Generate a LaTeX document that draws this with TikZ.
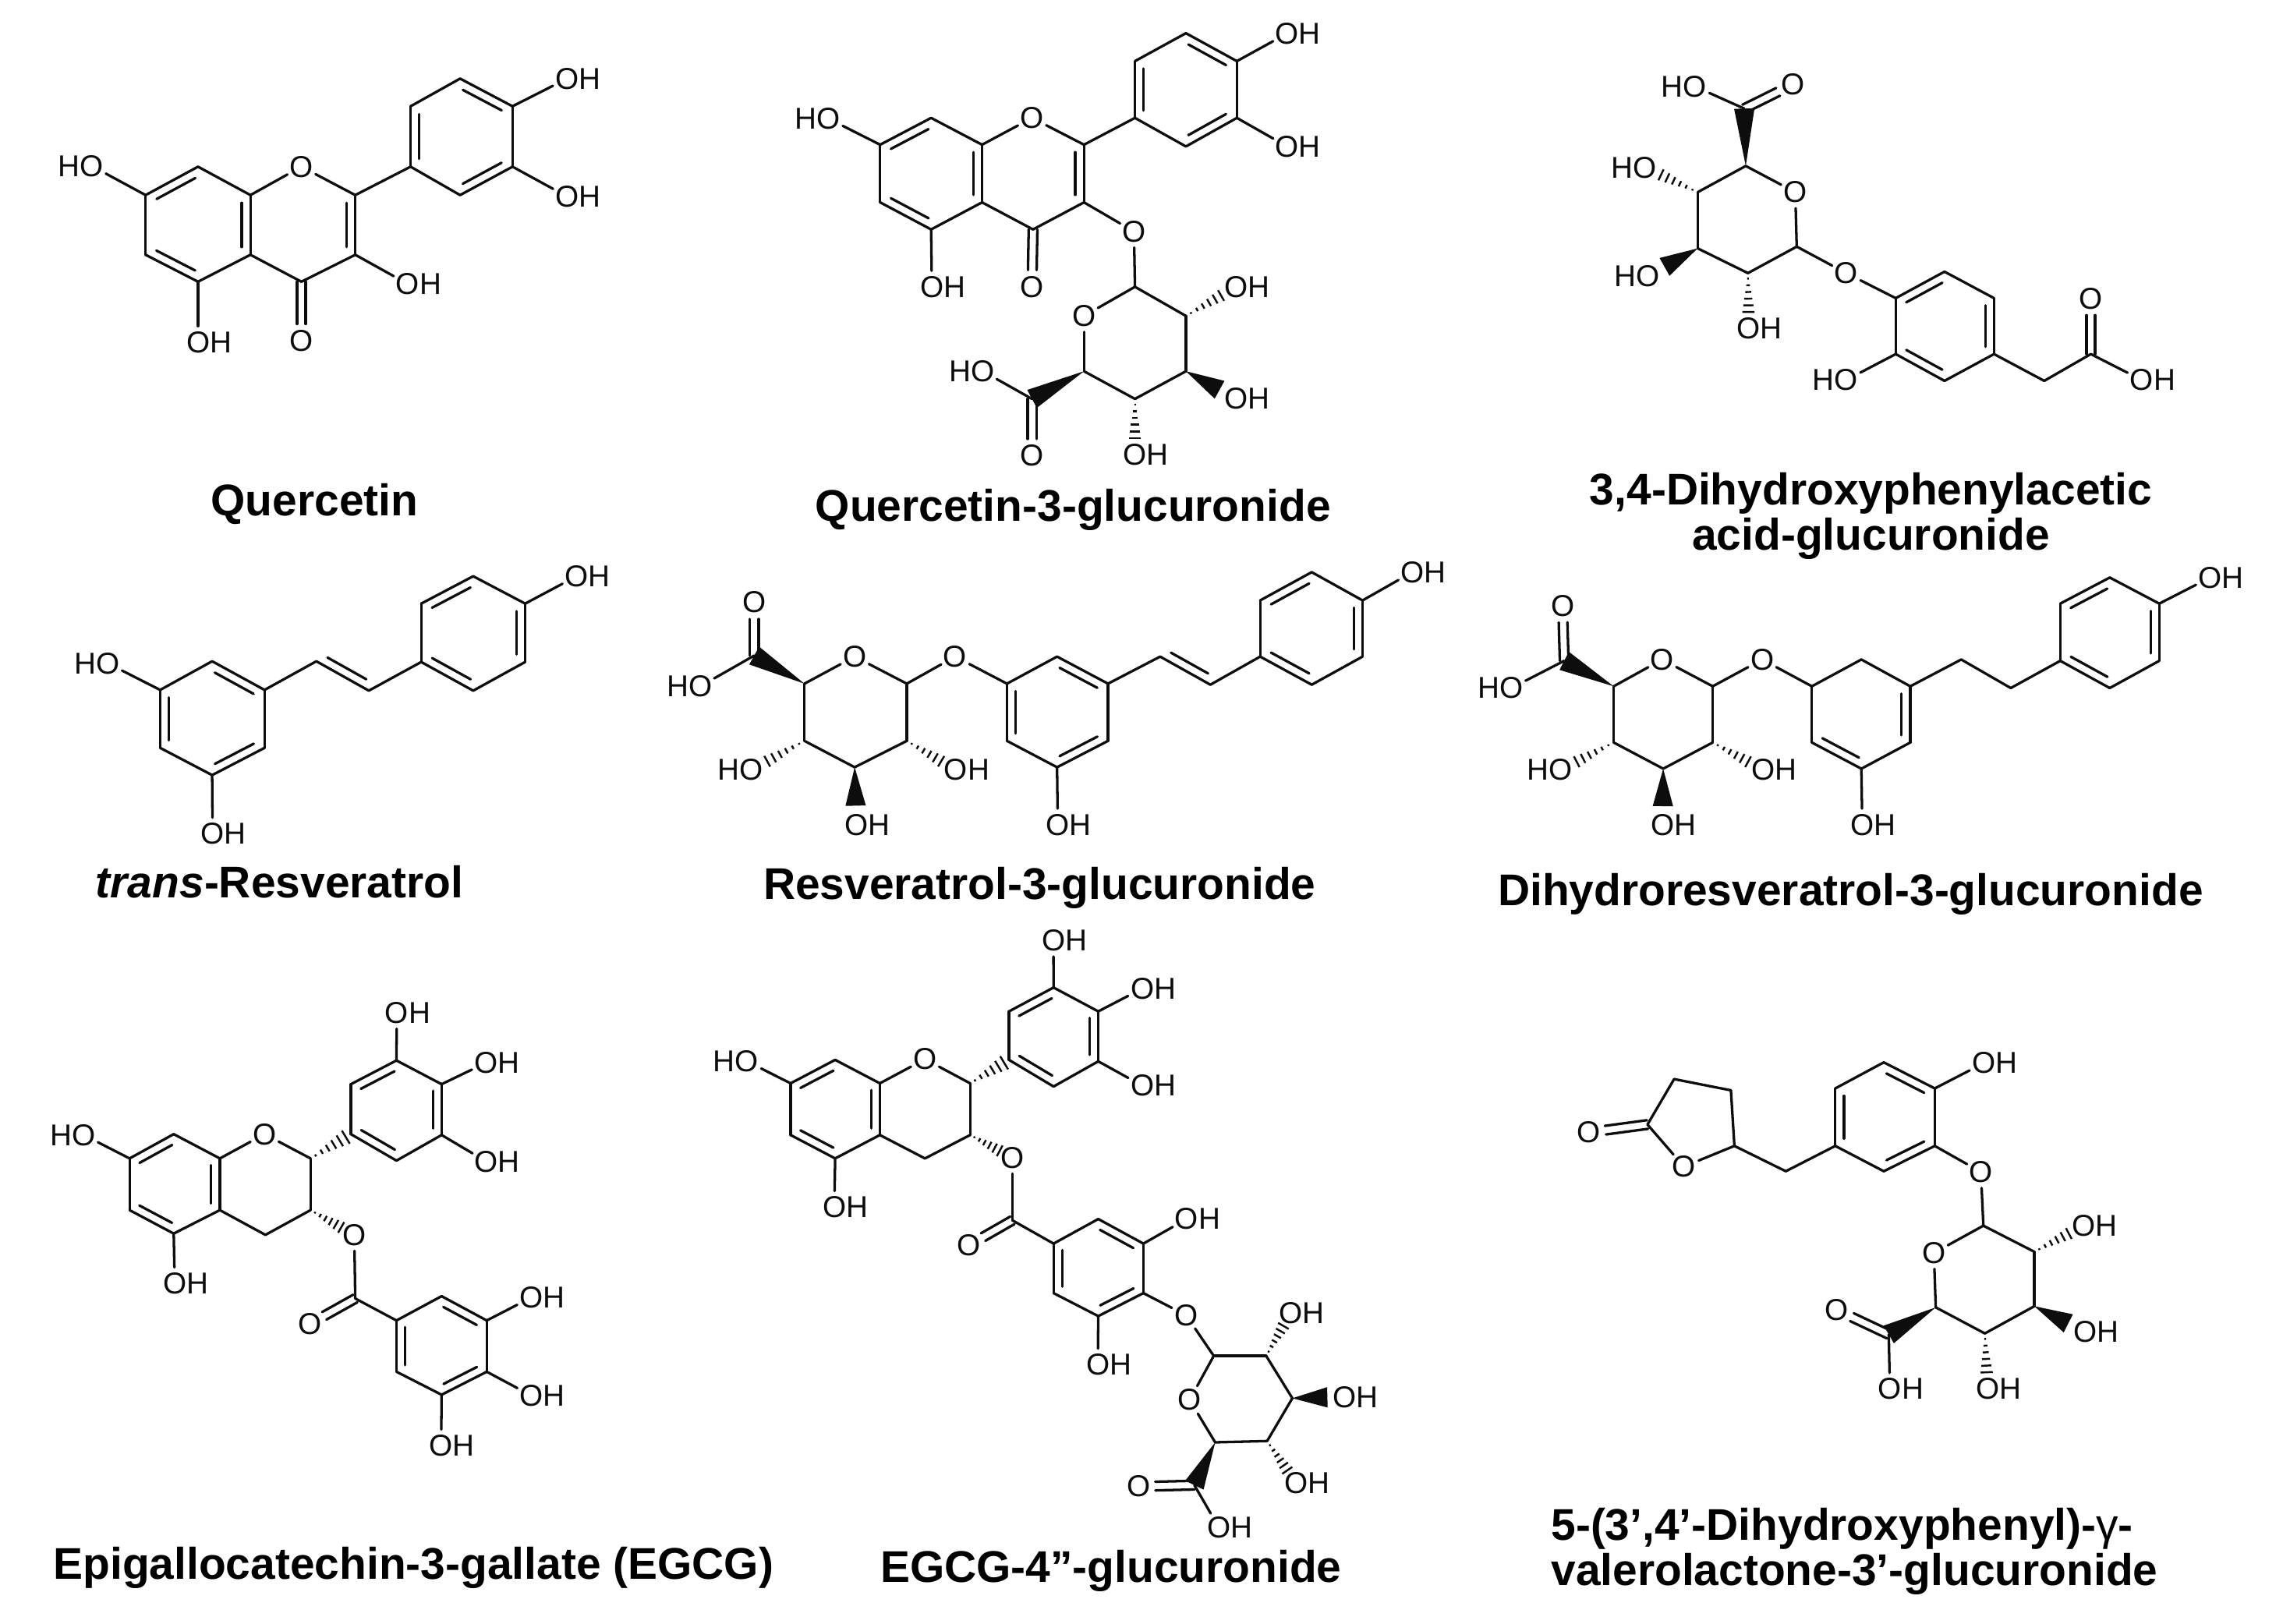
\documentclass[tikz,border=0pt]{standalone}
\usepackage{fontspec}
\setmainfont{Liberation Sans}
\usetikzlibrary{calc}
\def\bgap{3.4pt}
\tikzset{
  bond/.style={line width=1pt, line cap=round, black!95},
  site/.style={circle, inner sep=0pt, outer sep=0pt, minimum size=.44cm, font=\fontsize{11.8}{14}\selectfont, black!95},
  lab/.style={inner sep=0pt, outer sep=0pt, font=\fontsize{11.8}{14}\selectfont, black!95},
  title/.style={inner sep=0pt, align=center, yshift=-.06cm, font=\fontsize{17.35}{17.8}\selectfont\bfseries}
}
% atoms
\newcommand{\atoms}[2]{\foreach \n/\x/\y in {#2} \coordinate (#1\n) at (\x,\y);}
\newcommand{\oat}[3]{\node[site] (#1) at (#2,#3) {O};}
\newcommand{\oh}[3]{\node[site] (#1) at (#2,#3) {};
  \node[lab, anchor=west] (#1t) at ([xshift=-.16cm]#1.center) {OH};}
\newcommand{\ho}[3]{\node[site] (#1) at (#2,#3) {};
  \node[lab, anchor=east] (#1t) at ([xshift=.16cm]#1.center) {HO};}
% bonds
\newcommand{\bonds}[2]{\foreach \i/\j in {#2} \draw[bond] (#1\i) -- (#1\j);}
\newcommand{\dbl}[2]{\draw[bond] (#1) -- (#2);
  \draw[bond] ($(#1)!.13!(#2)!\bgap!90:(#2)$) -- ($(#2)!.13!(#1)!\bgap!-90:(#1)$);}
\newcommand{\dbls}[2]{\foreach \i/\j in {#2} \dbl{#1\i}{#1\j};}
\newcommand{\dblo}[2]{\draw[bond, shorten >=.23cm] ($(#1)!1.7pt!90:(#2)$) -- ($(#2)!1.7pt!-90:(#1)$);
  \draw[bond, shorten >=.23cm] ($(#1)!1.7pt!-90:(#2)$) -- ($(#2)!1.7pt!90:(#1)$);}
\newcommand{\wedgeb}[3][.67]{\coordinate (wtip) at ($(#2)!#1!(#3)$);
  \fill[black!95] (#2) -- ($(wtip)!.14cm!90:(#2)$) -- ($(wtip)!.14cm!-90:(#2)$) -- cycle;}
\newcommand{\hashb}[3][1]{\foreach \t in {.1,.22,.34,.46,.58,.7}
  \draw[black!95, line width=.75pt] ($(#2)!{\t*#1}!(#3)!{\t*#1*3.4pt}!90:(#3)$) -- ($(#2)!{\t*#1}!(#3)!{\t*#1*3.4pt}!-90:(#3)$);}

\begin{document}
\begin{tikzpicture}[x=.02cm, y=-.02cm]
  \useasboundingbox (0,0) rectangle (1568,1115);

  % Quercetin
  \atoms{q}{a7/100/134, a8/136/114.5, a8a/172/134, a4a/172/175, a5/136/193.5, a6/100/175,
    c2/244/134, c3/244/175, c4/207/193.5,
    b1/282/114.5, b2/282/73, b3/316/54, b4/352/73, b5/352/114.5, b6/316/134}
  \oat{qo1}{207}{114.5} \oat{qok}{207}{234}
  \oh{qo3}{280}{195} \oh{qo5}{136}{235} \ho{qo7}{63}{114}
  \oh{qoa}{389.5}{54} \oh{qob}{389.5}{135}
  \bonds{q}{a8/a8a, a4a/a5, a7/a6, a4a/c4, c4/c3, c2/b1, b3/b2, b1/b6, b5/b4,
    a8a/o1, c2/o1, c3/o3, a5/o5, a7/o7, b4/oa, b5/ob}
  \dbls{q}{a8/a7, a6/a5, a4a/a8a, c3/c2, b2/b1, b6/b5, b4/b3}
  \dblo{qc4}{qok}
  \node[title] (qname) at (216,343) {Quercetin};

  % Quercetin-3-glucuronide
  \atoms{g}{a7/604.5/99.4, a8/639.5/81, a8a/674.5/99.4, a4a/674.5/139, a5/639.5/157.6, a6/604.5/139,
    c2/744.5/99.4, c3/744.5/139, c4/709.5/157.6,
    b1/779.5/81, b2/779.5/42, b3/814.5/22.8, b4/849.5/42, b5/849.5/81, b6/814.5/100.6,
    s1/779.5/197, s2/814.5/217, s3/814.5/255, s4/779.5/274, s5/744.5/255, c6/708.8/274}
  \oat{go1}{708.8}{81} \oat{gok}{708.8}{197} \oat{gol}{778.8}{159} \oat{gso}{744.5}{217} \oat{gob}{708.8}{313}
  \oh{go5}{640}{197} \ho{go7}{569}{81.5} \oh{goa}{884}{23} \oh{goc}{884}{100.6}
  \oh{gs2o}{849}{197} \oh{gs3o}{849}{274} \oh{gs4o}{779.5}{312.5} \ho{goh}{675}{255}
  \bonds{g}{a8/a8a, a4a/a5, a7/a6, a4a/c4, c4/c3, c2/b1, b3/b2, b1/b6, b5/b4,
    a8a/o1, c2/o1, a5/o5, a7/o7, b4/oa, b5/oc, c3/ol, ol/s1, s1/so, s1/s2, s2/s3, s3/s4, s4/s5, s5/so, c6/oh}
  \dbls{g}{a8/a7, a6/a5, a4a/a8a, c3/c2, b2/b1, b6/b5, b4/b3}
  \dblo{gc4}{gok} \dblo{gc6}{gob}
  \hashb{gs2}{gs2o} \hashb{gs4}{gs4o} \wedgeb{gs3}{gs3o} \wedgeb[1]{gs5}{gc6}
  \node[title] (gname) at (737,347) {Quercetin-3-glucuronide};

  % 3,4-Dihydroxyphenylacetic acid-glucuronide
  \atoms{p}{c6/1198/74.6, s5/1199/114, s1/1234/169.4, s2/1200.5/187.6, s3/1166/170.6, s4/1166/132,
    p1/1302/204.8, p2/1335.5/186.6, p3/1369.5/204.8, p4/1369.5/243.2, p5/1335.5/261.6, p6/1302/243.2,
    ch/1404/261.6, k/1436/243.2}
  \ho{poa}{1164}{59.4} \oat{pob}{1231.5}{58} \oat{pso}{1233}{132} \oat{pol}{1268}{187.6} \oat{pok}{1436}{205}
  \ho{ps4o}{1130}{115} \ho{ps3o}{1132}{189.6} \oh{ps2o}{1201}{225.7} \ho{poh}{1268}{261} \oh{pod}{1471}{261}
  \bonds{p}{c6/oa, s5/so, so/s1, s1/s2, s2/s3, s3/s4, s4/s5, s1/ol, ol/p1,
    p1/p6, p5/p4, p3/p2, p6/oh, p4/ch, ch/k, k/od}
  \dbls{p}{p2/p1, p6/p5, p4/p3}
  \dblo{pc6}{pob} \dblo{pk}{pok}
  \wedgeb[1]{ps5}{pc6} \hashb{ps4}{ps4o} \wedgeb{ps3}{ps3o} \hashb{ps2}{ps2o}
  \node[title] (pname) at (1285,351.5) {3,4-Dihydroxyphenylacetic\\acid-glucuronide};

  % trans-Resveratrol
  \atoms{t}{r1/110/473.9, r2/145.7/454.2, r3/181.7/473.9, r4/181.7/513.7, r5/145.7/532.4, r6/110/513.7,
    v1/217.3/454.2, v2/253.3/474.4,
    b1/289.3/454.7, b2/289.3/414.6, b3/325/395.8, b4/360.7/414.6, b5/360.7/454.7, b6/325/474.4}
  \ho{toa}{74}{455.6} \oh{tob}{146}{572.6} \oh{toc}{396}{395.8}
  \bonds{t}{r2/r1, r6/r5, r4/r3, r1/oa, r5/ob, r3/v1, v2/b1, b2/b1, b6/b5, b4/b3, b4/oc}
  \dbls{t}{r1/r6, r5/r4, r3/r2, v1/v2, b3/b2, b1/b6, b5/b4}
  \node[title] (tname) at (192,603) {\textit{trans}-Resveratrol};

  % Resveratrol-3-glucuronide
  \atoms{r}{c6/518/450.3, s5/552.5/469.6, s1/622.8/469.6, s2/622.8/508.9, s3/587/527, s4/552.5/508.9,
    r1/691.6/469.6, r2/726/451, r3/761/469.6, r4/761/508.9, r5/726/527, r6/691.6/508.9,
    v1/796.8/451, v2/831.3/470.3,
    b1/865.5/451, b2/865.5/412.4, b3/900.9/393, b4/935.8/412.4, b5/935.8/451, b6/900.9/470.3}
  \oat{rob}{518}{413.7} \ho{roa}{481}{471.4} \oat{rso}{587}{451} \oat{rol}{656}{451}
  \ho{rs4o}{516}{528.9} \oh{rs2o}{656.5}{528.9} \oh{rs3o}{588}{566.4} \oh{rod}{726.5}{566.4} \oh{roc}{970}{393}
  \bonds{r}{c6/oa, s5/so, so/s1, s1/s2, s2/s3, s3/s4, s4/s5, s1/ol, ol/r1,
    r2/r1, r6/r5, r4/r3, r5/od, r3/v1, v2/b1, b2/b1, b6/b5, b4/b3, b4/oc}
  \dbls{r}{r1/r6, r5/r4, r3/r2, v1/v2, b3/b2, b1/b6, b5/b4}
  \dblo{rc6}{rob}
  \wedgeb[1]{rs5}{rc6} \hashb{rs4}{rs4o} \hashb{rs2}{rs2o} \wedgeb{rs3}{rs3o}
  \node[title] (rname) at (714,607) {Resveratrol-3-glucuronide};

  % Dihydroresveratrol-3-glucuronide
  \atoms{d}{c6/1074.3/453.9, s5/1108.3/471.4, s1/1176.3/471.4, s2/1176.3/510, s3/1142.3/528, s4/1108.3/510,
    r1/1244.4/471.4, r2/1278.4/453, r3/1312/471.4, r4/1312/510, r5/1278.4/528, r6/1244.4/510,
    v1/1347/453, v2/1381/472.6,
    b1/1415/453.9, b2/1415/414.6, b3/1449/396.7, b4/1483/414.6, b5/1483/453.9, b6/1449/472.6}
  \oat{dob}{1073.2}{416} \ho{doa}{1038}{472.6} \oat{dso}{1141.6}{453} \oat{dol}{1210.3}{453}
  \ho{ds4o}{1072}{528.9} \oh{ds2o}{1211}{528.9} \oh{ds3o}{1142}{566.4} \oh{dod}{1279}{566.4} \oh{doc}{1518}{396.7}
  \bonds{d}{c6/oa, s5/so, so/s1, s1/s2, s2/s3, s3/s4, s4/s5, s1/ol, ol/r1,
    r2/r1, r3/r2, r1/r6, r5/r4, r5/od, r3/v1, v1/v2, v2/b1, b2/b1, b6/b5, b4/b3, b4/oc}
  \dbls{d}{r4/r3, r6/r5, b3/b2, b1/b6, b5/b4}
  \dblo{dc6}{dob}
  \wedgeb[1]{ds5}{dc6} \hashb{ds4}{ds4o} \hashb{ds2}{ds2o} \wedgeb{ds3}{ds3o}
  \node[title] (dname) at (1271,611) {Dihydroresveratrol-3-glucuronide};

  % Epigallocatechin-3-gallate
  \atoms{e}{a7/89/795.7, a8/119.3/779, a8a/151/795.7, a4a/151/831.2, a5/119.3/847.3, a6/89/831.2,
    c2/213.3/795.7, c3/213.3/831.2, c4/182.3/848.2,
    b1/241/779, b2/241/744.7, b3/272.3/728.4, b4/303.3/744.7, b5/303.3/779.6, b6/272.3/797.2,
    k/244/891.9, g1/272.3/907, g2/303.3/890.3, g3/334.3/907, g4/334.3/942.2, g5/303.3/958, g6/272.3/942.2}
  \oat{eo1}{181.7}{779} \oat{eol}{243.3}{848.2} \oat{eok}{212.7}{909.4}
  \ho{eo7}{57.5}{779.6} \oh{eo5}{120}{881.5} \oh{eoa}{272.5}{695.6} \oh{eob}{334}{729.9} \oh{eoc}{334}{797.8}
  \oh{eod}{365}{891.2} \oh{eoe}{365}{958.6} \oh{eof}{303}{992.8}
  \bonds{e}{a7/a6, a5/a4a, a8a/a8, a8a/o1, o1/c2, c2/c3, c3/c4, c4/a4a, a7/o7, a5/o5,
    b2/b1, b6/b5, b4/b3, b3/oa, b4/ob, b5/oc, ol/k, k/g1, g2/g1, g6/g5, g4/g3, g3/od, g4/oe, g5/of}
  \dbls{e}{a8/a7, a6/a5, a4a/a8a, b3/b2, b1/b6, b5/b4, g1/g6, g5/g4, g3/g2}
  \dblo{ek}{eok}
  \hashb[1.25]{ec2}{eb1} \hashb{ec3}{eol}
  \node[title] (ename) at (284,1074) {Epigallocatechin-3-gallate (EGCG)};

  % EGCG-4''-glucuronide
  \atoms{f}{a7/543/744.1, a8/573.6/728, a8a/604.3/744.1, a4a/604.3/779.6, a5/573.6/795.7, a6/543/779.6,
    c2/666.3/744.1, c3/666.3/779.6, c4/635.3/795.7,
    b1/693/728, b2/693/694.7, b3/723.6/678.3, b4/754.3/694.7, b5/754.3/729, b6/723.6/746.3,
    k/695.3/838.2, g1/723.6/854.2, g2/754.3/837.3, g3/785.3/854.2, g4/785.3/888.2, g5/754.3/904, g6/723.6/888.2,
    s1/833.6/931.3, s2/869.6/931.3, s3/887.6/960.4, s4/870.3/989.8, s5/834.6/990.7, c6/820.3/1020.1}
  \oat{fo1}{635.3}{727.5} \oat{fol}{695.3}{795.1} \oat{fok}{665.3}{855.4} \oat{fom}{814.6}{903.4}
  \oat{fso}{817}{961.6} \oat{fob}{782}{1021}
  \ho{fo7}{513}{729} \oh{fo5}{573}{829} \oh{foa}{723.5}{646} \oh{foe}{784.5}{679} \oh{foc}{784.5}{745.7}
  \oh{fod}{815}{837.3} \oh{fof}{754}{937.3}
  \oh{fs2o}{886.5}{901.9} \oh{fs3o}{923.5}{959.5} \oh{fs4o}{890}{1018.6} \oh{foh}{837}{1049}
  \bonds{f}{a7/a6, a5/a4a, a8a/a8, a8a/o1, o1/c2, c2/c3, c3/c4, c4/a4a, a7/o7, a5/o5,
    b2/b1, b6/b5, b4/b3, b3/oa, b4/oe, b5/oc, ol/k, k/g1, g2/g1, g6/g5, g4/g3, g3/od, g4/om, g5/of,
    om/s1, s1/s2, s2/s3, s3/s4, s4/s5, s5/so, so/s1, c6/oh}
  \dbls{f}{a8/a7, a6/a5, a4a/a8a, b3/b2, b1/b6, b5/b4, g1/g6, g5/g4, g3/g2}
  \dblo{fk}{fok} \dblo{fc6}{fob}
  \hashb[1.25]{fc2}{fb1} \hashb{fc3}{fol} \hashb{fs2}{fs2o} \hashb{fs4}{fs4o}
  \wedgeb{fs3}{fs3o} \wedgeb[1]{fs5}{fc6}
  \node[title] (fname) at (763,1076) {EGCG-4”-glucuronide};

  % 5-(3',4'-Dihydroxyphenyl)-valerolactone-3'-glucuronide
  \atoms{v}{l1/1131.5/772.4, l2/1149.8/741.2, l3/1188.8/748.9, l4/1191.2/787.1, ch/1226.5/804.5,
    p1/1260.5/787.1, p2/1260.5/747.6, p3/1293.8/729.7, p4/1328.8/747.6, p5/1328.8/787.1, p6/1293.8/804.5,
    s1/1362.2/841.9, s2/1397.2/859.8, s3/1397.2/897.2, s4/1363.2/915.9, s5/1329.5/898, c6/1297.2/916.6}
  \oat{vlo}{1156.5}{801.3} \oat{vok}{1091.2}{777.8} \oat{vol}{1360.5}{805} \oat{vso}{1328.2}{860.6} \oat{vob}{1261.5}{899.8}
  \oh{voa}{1362.5}{730.2} \oh{vs2o}{1431}{841.9} \oh{vs3o}{1432}{914.8} \oh{vs4o}{1365}{954} \oh{voh}{1298}{954}
  \bonds{v}{l1/l2, l2/l3, l3/l4, l4/lo, lo/l1, l4/ch, ch/p1, p3/p2, p1/p6, p5/p4, p4/oa, p5/ol,
    ol/s1, s1/so, so/s5, s5/s4, s4/s3, s3/s2, s2/s1, c6/oh}
  \dbls{v}{p2/p1, p6/p5, p4/p3}
  \dblo{vl1}{vok} \dblo{vc6}{vob}
  \hashb{vs2}{vs2o} \hashb{vs4}{vs4o} \wedgeb{vs3}{vs3o} \wedgeb[1]{vs5}{vc6}
  \node[title, align=left, anchor=west] (vname) at (1065,1062.5) {5-(3’,4’-Dihydroxyphenyl)-{\mdseries γ}-\\valerolactone-3’-glucuronide};
\end{tikzpicture}
\end{document}
